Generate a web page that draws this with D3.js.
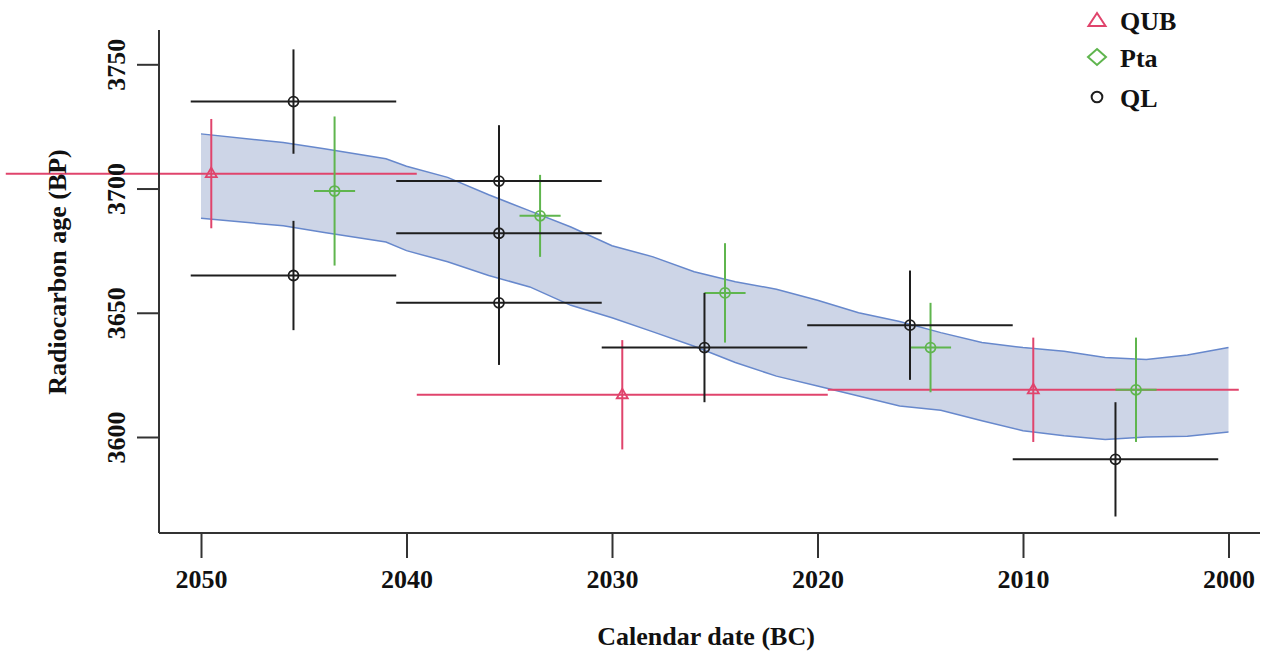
<!DOCTYPE html>
<html>
<head>
<meta charset="utf-8">
<script src="https://d3js.org/d3.v7.min.js"></script>
<style>
  body { margin: 0; background: #fff; }
  text { font-family: "Liberation Serif", "DejaVu Serif", serif; font-weight: bold; fill: #111; }
</style>
</head>
<body>
<script>
// calibration band (1 sigma)
var bandYears = [2050, 2046, 2044, 2041, 2040, 2038, 2036, 2034, 2032, 2030, 2028, 2026, 2024,
                 2022, 2020, 2018, 2016, 2014, 2012, 2010, 2008, 2006, 2004, 2002, 2000];
var bandUpper = [3722, 3718.5, 3716, 3712, 3709, 3704.5, 3697.5, 3691, 3684.5, 3677, 3672.5, 3666.5, 3662.5,
                 3659.5, 3655, 3650, 3646.5, 3642, 3638, 3636, 3634.5, 3632, 3631.2, 3633, 3636];
var bandLower = [3688, 3685, 3682.3, 3678.5, 3675, 3670.5, 3665, 3660.4, 3653, 3648, 3642.3, 3636.5, 3630,
                 3624.5, 3620.5, 3616.5, 3612.5, 3610.8, 3606.5, 3602.5, 3600.5, 3599, 3600, 3600.3, 3602];

// QUB
var qubYears = [2049.5, 2029.5, 2009.5];
var qubAges = [3706, 3617, 3619];
var qubAgeErr = [22, 22, 21];
var qubYearErr = [10, 10, 10];

// Pta
var ptaYears = [2043.5, 2033.5, 2024.5, 2014.5, 2004.5];
var ptaAges = [3699, 3689, 3658, 3636, 3619];
var ptaAgeErr = [30, 16.5, 20, 18, 21];
var ptaYearErr = [1, 1, 1, 1, 1];

// QL
var qlYears = [2045.5, 2045.5, 2035.5, 2035.5, 2035.5, 2025.5, 2015.5, 2005.5];
var qlAges = [3735, 3665, 3703, 3682, 3654, 3636, 3645, 3591];
var qlAgeErr = [21, 22, 22.5, 22, 25, 22, 22, 23];
var qlYearErr = [5, 5, 5, 5, 5, 5, 5, 5];

var xTicks = [2050, 2040, 2030, 2020, 2010, 2000];
var yTicks = [3600, 3650, 3700, 3750];

var width = 1279, height = 656;
var svg = d3.select("body").append("svg")
    .attr("width", width)
    .attr("height", height);

var x = d3.scaleLinear().domain([2050, 2000]).range([201, 1228.5]);
var y = d3.scaleLinear().domain([3600, 3750]).range([437, 64.3]);

var axisX = 159, axisY = 533;

// band
var band = bandYears.map((d, i) => ({year: d, hi: bandUpper[i], lo: bandLower[i]}));
svg.append("path")
    .datum(band)
    .attr("fill", "#cdd5e7")
    .attr("d", d3.area().x(d => x(d.year)).y0(d => y(d.lo)).y1(d => y(d.hi)));
svg.append("path")
    .datum(band)
    .attr("fill", "none")
    .attr("stroke", "#6788cc")
    .attr("stroke-width", 1.5)
    .attr("d", d3.line().x(d => x(d.year)).y(d => y(d.hi)));
svg.append("path")
    .datum(band)
    .attr("fill", "none")
    .attr("stroke", "#6788cc")
    .attr("stroke-width", 1.5)
    .attr("d", d3.line().x(d => x(d.year)).y(d => y(d.lo)));

function series(years, ages, ageErr, yearErr, color, lw, marker) {
  var data = years.map((d, i) => ({year: d, age: ages[i], ae: ageErr[i], ye: yearErr[i]}));
  var g = svg.append("g");
  var pts = g.selectAll("g").data(data).enter().append("g");
  pts.append("line")
      .attr("x1", d => x(d.year + d.ye)).attr("x2", d => x(d.year - d.ye))
      .attr("y1", d => y(d.age)).attr("y2", d => y(d.age))
      .attr("stroke", color).attr("stroke-width", lw);
  pts.append("line")
      .attr("x1", d => x(d.year)).attr("x2", d => x(d.year))
      .attr("y1", d => y(d.age - d.ae)).attr("y2", d => y(d.age + d.ae))
      .attr("stroke", color).attr("stroke-width", lw);
  pts.append("path")
      .attr("transform", d => `translate(${x(d.year)},${y(d.age)})`)
      .attr("d", marker)
      .attr("fill", "none")
      .attr("stroke", color)
      .attr("stroke-width", 1.8);
}

var triSmall = "M0,-6L5.5,3.5L-5.5,3.5Z";
var circ = d3.symbol().type(d3.symbolCircle).size(78)();

series(qubYears, qubAges, qubAgeErr, qubYearErr, "#e0446c", 2, triSmall);
series(ptaYears, ptaAges, ptaAgeErr, ptaYearErr, "#5fb54e", 2, circ);
series(qlYears, qlAges, qlAgeErr, qlYearErr, "#1e1e1e", 2, circ);

// axes
var gx = svg.append("g")
    .attr("transform", `translate(0,${axisY})`)
    .call(d3.axisBottom(x).tickValues(xTicks).tickSize(25).tickPadding(30).tickFormat(d3.format("d")));
gx.select(".domain").remove();
gx.selectAll(".tick line").attr("stroke", "#333").attr("stroke-width", 2);
gx.selectAll(".tick text")
    .attr("font-size", 26).attr("dy", 0).attr("y", 55)
    .style("font-family", "'Liberation Serif', serif").style("font-weight", "bold").attr("fill", "#111");

var gy = svg.append("g")
    .attr("transform", `translate(${axisX},0)`)
    .call(d3.axisLeft(y).tickValues(yTicks).tickSize(22).tickFormat(d3.format("d")));
gy.select(".domain").remove();
gy.selectAll(".tick line").attr("stroke", "#333").attr("stroke-width", 2);
gy.selectAll(".tick text")
    .attr("font-size", 26)
    .attr("text-anchor", "middle")
    .attr("transform", "rotate(-90)")
    .attr("x", 0).attr("y", -34).attr("dy", 0)
    .style("font-family", "'Liberation Serif', serif").style("font-weight", "bold").attr("fill", "#111");

svg.append("line")
    .attr("x1", axisX).attr("x2", axisX).attr("y1", 30).attr("y2", axisY)
    .attr("stroke", "#333").attr("stroke-width", 2);
svg.append("line")
    .attr("x1", axisX).attr("x2", 1260).attr("y1", axisY).attr("y2", axisY)
    .attr("stroke", "#333").attr("stroke-width", 2);

// axis titles
svg.append("text")
    .attr("x", 706).attr("y", 645)
    .attr("text-anchor", "middle")
    .attr("font-size", 26)
    .text("Calendar date (BC)");
svg.append("text")
    .attr("transform", "translate(66,272) rotate(-90)")
    .attr("text-anchor", "middle")
    .attr("font-size", 26)
    .text("Radiocarbon age (BP)");

// legend
var legNames = ["QUB", "Pta", "QL"];
var legColors = ["#e0446c", "#5fb54e", "#1e1e1e"];
var legMarkers = ["M0,-7L8.5,6L-8.5,6Z", "M0,-8L9,0L0,8L-9,0Z", d3.symbol().type(d3.symbolCircle).size(90)()];
var legY = [20, 57, 97];
var leg = svg.append("g").selectAll("g").data(legNames).enter().append("g")
    .attr("transform", (d, i) => `translate(1097,${legY[i]})`);
leg.append("path")
    .attr("d", (d, i) => legMarkers[i])
    .attr("fill", "none")
    .attr("stroke", (d, i) => legColors[i])
    .attr("stroke-width", 2);
leg.append("text")
    .attr("x", 23).attr("y", 10)
    .attr("font-size", 26)
    .text(d => d);
</script>
</body>
</html>
